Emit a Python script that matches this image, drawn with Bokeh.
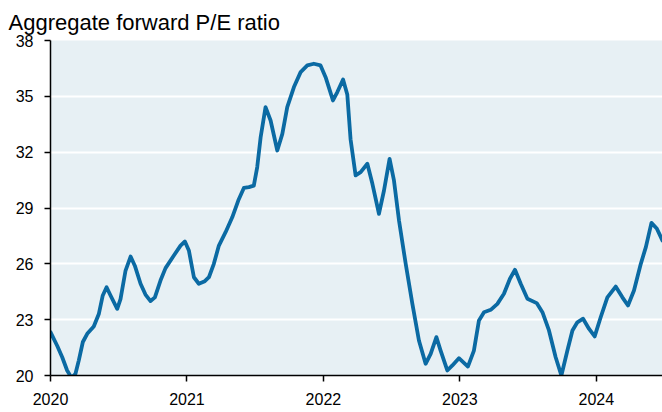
from bokeh.plotting import figure
from bokeh.models import FixedTicker, Range1d, Title
from bokeh.embed import file_html
from bokeh.resources import INLINE

# decimal year, aggregate forward P/E
dates = [2020.000, 2020.049, 2020.086, 2020.122, 2020.154, 2020.183, 2020.207, 2020.237,
         2020.269, 2020.317, 2020.354, 2020.383, 2020.411, 2020.440, 2020.489, 2020.513,
         2020.550, 2020.587, 2020.618, 2020.660, 2020.696, 2020.733, 2020.765, 2020.806,
         2020.843, 2020.904, 2020.953, 2020.985, 2021.014, 2021.051, 2021.087, 2021.131,
         2021.161, 2021.197, 2021.234, 2021.283, 2021.332, 2021.376, 2021.417, 2021.454,
         2021.490, 2021.515, 2021.540, 2021.576, 2021.613, 2021.662, 2021.699, 2021.735,
         2021.784, 2021.833, 2021.882, 2021.930, 2021.979, 2022.016, 2022.070, 2022.102,
         2022.144, 2022.175, 2022.199, 2022.236, 2022.273, 2022.322, 2022.359, 2022.407,
         2022.444, 2022.485, 2022.517, 2022.554, 2022.603, 2022.652, 2022.700, 2022.749,
         2022.786, 2022.828, 2022.859, 2022.908, 2022.945, 2022.993, 2023.059, 2023.103,
         2023.140, 2023.177, 2023.226, 2023.275, 2023.323, 2023.367, 2023.404, 2023.446,
         2023.495, 2023.563, 2023.605, 2023.653, 2023.702, 2023.744, 2023.788, 2023.825,
         2023.861, 2023.903, 2023.947, 2023.988, 2024.032, 2024.081, 2024.142, 2024.191,
         2024.232, 2024.276, 2024.326, 2024.363, 2024.404, 2024.443, 2024.485]
pe = [22.33, 21.6, 20.98, 20.27, 19.88, 20.09, 20.8, 21.8,
      22.24, 22.63, 23.3, 24.3, 24.74, 24.3, 23.58, 24.1,
      25.64, 26.39, 25.9, 24.93, 24.35, 24.0, 24.2, 25.1,
      25.77, 26.45, 26.98, 27.2, 26.72, 25.28, 24.93, 25.07,
      25.28, 26.0, 26.98, 27.7, 28.5, 29.4, 30.08, 30.12,
      30.2, 31.2, 32.8, 34.42, 33.7, 32.09, 32.98, 34.42,
      35.5, 36.3, 36.66, 36.75, 36.66, 36.03, 34.78, 35.23,
      35.9, 35.1, 32.7, 30.75, 30.93, 31.38, 30.3, 28.69,
      29.94, 31.64, 30.48, 28.33, 26.0, 23.85, 21.88, 20.63,
      21.16, 22.06, 21.34, 20.27, 20.54, 20.93, 20.48, 21.34,
      22.96, 23.4, 23.53, 23.85, 24.39, 25.2, 25.68, 24.93,
      24.12, 23.89, 23.4, 22.42, 20.98, 20.0, 21.34, 22.42,
      22.86, 23.05, 22.5, 22.1, 23.13, 24.2, 24.78, 24.2,
      23.76, 24.57, 26.0, 26.9, 28.2, 27.9, 27.25]

y_ticks = [20, 23, 26, 29, 32, 35, 38]
x_ticks = [2020, 2021, 2022, 2023, 2024]
x_labels = {2020: "2020", 2021: "2021", 2022: "2022", 2023: "2023", 2024: "2024"}

FONT = "Liberation Sans"

p = figure(width=662, height=412, output_backend="svg", toolbar_location=None,
           x_range=Range1d(2020.0, 2024.485), y_range=Range1d(20, 38),
           min_border_left=50, min_border_right=0, min_border_top=40, min_border_bottom=37)
p.title = None
t = Title(text="Aggregate forward P/E ratio", text_font=FONT, text_font_size="22px",
          text_font_style="normal", text_color="#000000", align="left", offset=-42, standoff=12)
p.add_layout(t, "above")

p.background_fill_color = "#e7f0f4"
p.border_fill_color = "#ffffff"
p.outline_line_color = None

p.line(dates, pe, line_color="#0b6aa3", line_width=3.8, line_join="round", line_cap="round")

p.xgrid.visible = False
p.ygrid.ticker = FixedTicker(ticks=[23, 26, 29, 32, 35])
p.ygrid.grid_line_color = "#ffffff"
p.ygrid.grid_line_width = 2

for ax in (p.xaxis[0], p.yaxis[0]):
    ax.axis_line_color = "#000000"
    ax.axis_line_width = 1.5
    ax.major_tick_line_color = "#000000"
    ax.major_tick_line_width = 1.5
    ax.major_tick_in = 0
    ax.major_tick_out = 6
    ax.minor_tick_line_color = None
    ax.major_label_text_font = FONT
    ax.major_label_text_font_size = "16px"
    ax.major_label_text_color = "#000000"

p.yaxis.ticker = FixedTicker(ticks=y_ticks)
p.yaxis.major_label_standoff = 11
p.xaxis.ticker = FixedTicker(ticks=x_ticks)
p.xaxis.major_label_overrides = x_labels
p.xaxis.major_label_standoff = 11

open("out.html", "w").write(file_html(p, INLINE))
